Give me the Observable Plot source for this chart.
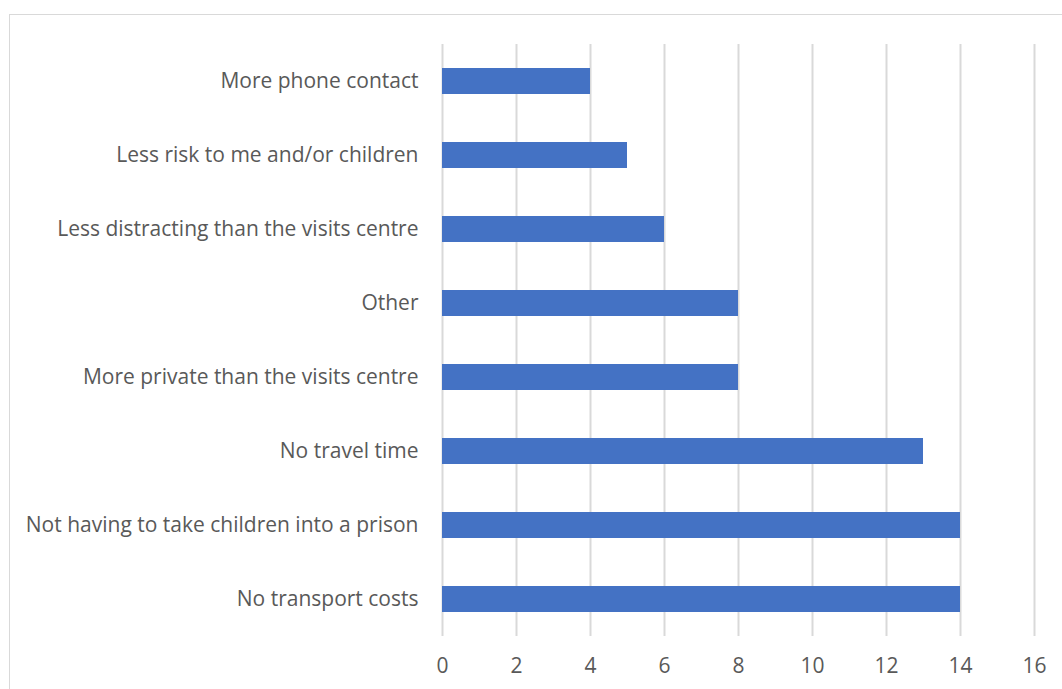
<!DOCTYPE html>
<html>
<head>
<meta charset="utf-8">
<script src="https://cdn.jsdelivr.net/npm/d3@7"></script>
<script src="https://cdn.jsdelivr.net/npm/@observablehq/plot@0.6"></script>
<style>
  html, body { margin: 0; padding: 0; background: #fff; }
  #wrap { position: relative; width: 1062px; height: 689px; overflow: hidden; }
  #frame { position: absolute; left: 9px; top: 14px; width: 1070px; height: 700px; border: 1.5px solid #d9d9d9; box-sizing: border-box; pointer-events: none; }
  #chart { position: absolute; left: 0; top: 0; }
</style>
</head>
<body>
<div id="wrap"><div id="frame"></div><div id="chart"></div></div>
<script>
const categories = [
  "More phone contact",
  "Less risk to me and/or children",
  "Less distracting than the visits centre",
  "Other",
  "More private than the visits centre",
  "No travel time",
  "Not having to take children into a prison",
  "No transport costs"
];
const values = [4, 5, 6, 8, 8, 13, 14, 14];
const xTicks = [0, 2, 4, 6, 8, 10, 12, 14, 16];

const data = categories.map((c, i) => ({category: c, value: values[i]}));

const chart = Plot.plot({
  width: 1062,
  height: 689,
  marginLeft: 442,
  marginRight: 28,
  marginTop: 44,
  marginBottom: 53,
  style: {fontFamily: "'Open Sans', sans-serif", fontSize: "21px", color: "#595959", background: "transparent"},
  x: {domain: [0, 16], ticks: xTicks, label: null},
  y: {domain: categories, paddingInner: 0.65, paddingOuter: 0.325, label: null},
  marks: [
    Plot.gridX(xTicks, {stroke: "#d9d9d9", strokeWidth: 2, strokeOpacity: 1}),
    Plot.barX(data, {x: "value", y: "category", fill: "#4472C4"}),
    Plot.axisX({ticks: xTicks, tickSize: 0, tickPadding: 22, fontSize: 21, fill: "#595959", label: null}),
    Plot.axisY({tickSize: 0, tickPadding: 24, fontSize: 21, fill: "#595959", label: null})
  ]
});
document.getElementById("chart").appendChild(chart);
</script>
</body>
</html>
